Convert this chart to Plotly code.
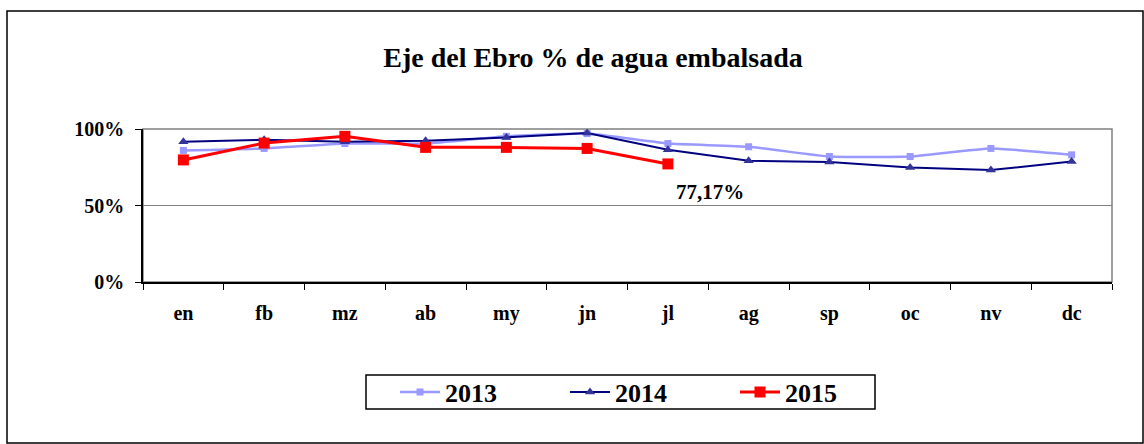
import plotly.graph_objects as go

months = ["en", "fb", "mz", "ab", "my", "jn", "jl", "ag", "sp", "oc", "nv", "dc"]
v2013 = [0.86, 0.873, 0.905, 0.905, 0.952, 0.97, 0.905, 0.884, 0.82, 0.82, 0.873, 0.831]
v2014 = [0.916, 0.93, 0.916, 0.923, 0.945, 0.974, 0.864, 0.792, 0.785, 0.748, 0.732, 0.787]
v2015 = [0.798, 0.908, 0.952, 0.88, 0.88, 0.873, 0.7717]
y_ticks = [0, 0.5, 1.0]
y_labels = ["0%", "50%", "100%"]
note_text = "77,17%"

FONT = "Liberation Serif, Times New Roman, serif"
W, H = 1144, 444
L, R, T, B = 143, 1112, 129, 282
pw, ph = R - L, B - T


def px(x):
    return (x - L) / pw


def py(y):
    return (B - y) / ph


fig = go.Figure()
fig.add_trace(go.Scatter(
    x=months, y=v2013, name="<b>2013</b>", mode="lines+markers",
    line=dict(color="#9999FF", width=2.5, shape="spline", smoothing=0.4),
    marker=dict(symbol="square", size=7, color="#9999FF"),
))
fig.add_trace(go.Scatter(
    x=months, y=v2014, name="<b>2014</b>", mode="lines+markers",
    line=dict(color="#000080", width=2),
    marker=dict(symbol="triangle-up", size=9, color="#333399"),
))
fig.add_trace(go.Scatter(
    x=months[:len(v2015)], y=v2015, name="<b>2015</b>", mode="lines+markers",
    line=dict(color="#FF0000", width=3),
    marker=dict(symbol="square", size=11, color="#FF0000"),
))

fig.add_annotation(
    x=months[len(v2015) - 1], y=0.588, text="<b>%s</b>" % note_text, showarrow=False,
    xshift=42, font=dict(family=FONT, size=21, color="black"),
)

# outer chart frame
fig.add_shape(type="rect", xref="paper", yref="paper",
              x0=px(7), x1=px(1143), y0=py(443), y1=py(11),
              line=dict(color="black", width=1.5), layer="below")
# plot area border (gray)
fig.add_shape(type="rect", xref="paper", yref="paper",
              x0=0, x1=1, y0=0, y1=1,
              line=dict(color="#808080", width=1.5), layer="below")
# legend box
fig.add_shape(type="rect", xref="paper", yref="paper",
              x0=px(366), x1=px(875), y0=py(409), y1=py(375),
              line=dict(color="black", width=1.5), fillcolor="white", layer="below")

fig.update_layout(
    width=W, height=H,
    margin=dict(l=L, r=W - R, t=T, b=H - B),
    paper_bgcolor="white", plot_bgcolor="white",
    title=dict(text="<b>Eje del Ebro % de agua embalsada</b>",
               x=593 / W, xanchor="center", y=1 - 57 / H, yanchor="middle",
               xref="container", yref="container",
               font=dict(family=FONT, size=28, color="black")),
    font=dict(family=FONT, color="black"),
    showlegend=True,
    legend=dict(orientation="h", x=px(395), xanchor="left",
                y=py(392), yanchor="middle",
                borderwidth=0, bgcolor="rgba(0,0,0,0)",
                font=dict(family=FONT, size=26, color="black"),
                entrywidth=115, itemwidth=40,
                tracegroupgap=0),
)
fig.update_xaxes(
    type="category", tickmode="array", tickvals=months,
    ticktext=["<b>%s</b>" % m for m in months],
    tickson="boundaries", ticks="outside", ticklen=6, tickcolor="black",
    showline=True, linecolor="black", linewidth=1.5,
    showgrid=False, range=[-0.5, 11.5],
    tickfont=dict(family=FONT, size=20, color="black"),
    zeroline=False, ticklabelstandoff=12,
)
fig.update_yaxes(
    range=[0, 1], tickvals=y_ticks, ticktext=["<b>%s</b>" % t for t in y_labels],
    ticks="outside", ticklen=6, tickcolor="black",
    showline=True, linecolor="black", linewidth=1.5,
    showgrid=True, gridcolor="#808080", gridwidth=1,
    tickfont=dict(family=FONT, size=20, color="black"),
    zeroline=False, ticklabelstandoff=7,
)

fig.write_html("out.html", config={"displayModeBar": False},
               post_script="document.body.style.margin='0';")
